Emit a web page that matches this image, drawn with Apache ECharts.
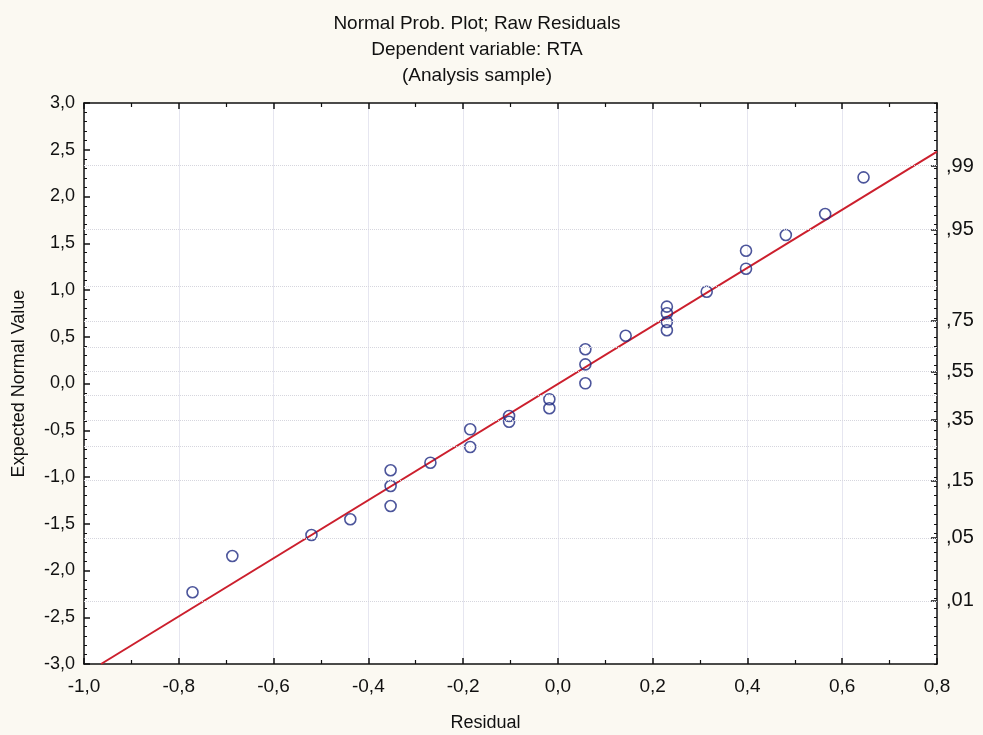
<!DOCTYPE html>
<html>
<head>
<meta charset="utf-8">
<script src="https://cdn.jsdelivr.net/npm/echarts@6/dist/echarts.min.js"></script>
<style>
html,body{margin:0;padding:0;background:#fbf9f2;}
#chart{width:983px;height:735px;}
</style>
</head>
<body>
<div id="chart"></div>
<script>
// Residuals (x) and expected normal values (y)
const residuals = [0.645, 0.564, 0.481, 0.397, 0.397, 0.314, 0.230, 0.230, 0.230, 0.230, 0.143, 0.058, 0.058, 0.058,
  -0.018, -0.018, -0.103, -0.103, -0.185, -0.185, -0.269, -0.353, -0.353, -0.353, -0.438, -0.520, -0.687, -0.771];
const expectedNormal = [2.205, 1.813, 1.588, 1.420, 1.228, 0.982, 0.822, 0.751, 0.658, 0.569, 0.511, 0.366, 0.205, 0.002,
  -0.169, -0.265, -0.348, -0.409, -0.490, -0.679, -0.847, -0.928, -1.096, -1.310, -1.452, -1.620, -1.845, -2.233];
// Fitted reference line end points
const lineX = [-0.964, 0.8];
const lineY = [-3.0, 2.48];
// Right axis probability labels and their normal quantiles
const probLabels = [',99', ',95', ',75', ',55', ',35', ',15', ',05', ',01'];
const probZ = [2.326, 1.645, 0.674, 0.126, -0.385, -1.036, -1.645, -2.326];
// Faint dotted guide lines at probability levels
const guideZ = [2.326, 1.645, 1.036, 0.674, 0.385, 0.126, -0.126, -0.385, -0.674, -1.036, -1.645, -2.326];
// Minor ticks on the right axis (every 0.1 in z)
const rightMinorTicks = [];
for (let i = -30; i <= 30; i++) rightMinorTicks.push(i / 10);

const fmt = v => v.toFixed(1).replace('.', ',');
const FONT = 'Liberation Sans, Arial, sans-serif';

const chart = echarts.init(document.getElementById('chart'), null, {renderer: 'canvas'});
const axisLine = {show: true, onZero: false, lineStyle: {color: '#111', width: 1.5}};

chart.setOption({
  backgroundColor: '#fbf9f2',
  animation: false,
  title: {
    text: 'Normal Prob. Plot; Raw Residuals\nDependent variable: RTA\n(Analysis sample)',
    left: 472, top: 6, textAlign: 'center',
    textStyle: {fontFamily: FONT, fontSize: 19, fontWeight: 'normal', color: '#111', lineHeight: 26}
  },
  grid: {left: 84, right: 46, top: 103, bottom: 71, show: true, backgroundColor: '#ffffff', borderWidth: 0,
    containLabel: false, outerBoundsMode: 'none'},
  xAxis: [
    {
      type: 'value', min: -1, max: 0.8, interval: 0.2, position: 'bottom',
      name: 'Residual', nameLocation: 'middle', nameGap: 50,
      nameTextStyle: {fontFamily: FONT, fontSize: 18, color: '#111', padding: [0, 50, 0, 0]},
      axisLine: axisLine,
      axisTick: {show: true, inside: true, length: 6, lineStyle: {color: '#111', width: 1.5}},
      minorTick: {show: true, splitNumber: 2, length: 4, lineStyle: {color: '#111', width: 1.2}},
      axisLabel: {formatter: fmt, fontFamily: FONT, fontSize: 19, color: '#111', margin: 13},
      splitLine: {show: true, lineStyle: {color: '#e6e6f0', width: 1}}
    },
    {
      type: 'value', min: -1, max: 0.8, interval: 0.2, position: 'top',
      axisLine: axisLine,
      axisTick: {show: true, inside: true, length: 6, lineStyle: {color: '#111', width: 1.5}},
      minorTick: {show: true, splitNumber: 2, length: 4, lineStyle: {color: '#111', width: 1.2}},
      axisLabel: {show: false}, splitLine: {show: false}
    }
  ],
  yAxis: [
    {
      type: 'value', min: -3, max: 3, interval: 0.5, position: 'left',
      name: 'Expected Normal Value', nameLocation: 'middle', nameGap: 56, nameRotate: 90,
      nameTextStyle: {fontFamily: FONT, fontSize: 18, color: '#111'},
      axisLine: axisLine,
      axisTick: {show: true, inside: true, length: 6, lineStyle: {color: '#111', width: 1.5}},
      minorTick: {show: true, splitNumber: 5, length: 3, lineStyle: {color: '#111', width: 1}},
      axisLabel: {formatter: fmt, fontFamily: FONT, fontSize: 18, color: '#111', margin: 9},
      splitLine: {show: false}
    },
    {
      type: 'value', min: -3, max: 3, position: 'right',
      axisLine: axisLine,
      axisTick: {show: true, inside: true, length: 6, customValues: probZ, lineStyle: {color: '#111', width: 1.5}},
      axisLabel: {
        show: true, customValues: probZ, fontFamily: FONT, fontSize: 20, color: '#111', margin: 9,
        formatter: v => { const i = probZ.findIndex(z => Math.abs(z - v) < 1e-6); return i >= 0 ? probLabels[i] : ''; }
      },
      splitLine: {show: false}
    },
    {
      type: 'value', min: -3, max: 3, position: 'right',
      axisLine: {show: false, onZero: false},
      axisTick: {show: true, inside: true, length: 3, customValues: rightMinorTicks, lineStyle: {color: '#111', width: 1}},
      axisLabel: {show: false},
      splitLine: {show: false}
    }
  ],
  series: [
    {
      type: 'line', xAxisIndex: 0, yAxisIndex: 0,
      data: lineX.map((x, i) => [x, lineY[i]]),
      symbol: 'none', lineStyle: {color: '#cc1f2d', width: 2}, z: 3,
      markLine: {
        silent: true, symbol: 'none', label: {show: false},
        lineStyle: {color: '#d6d6de', type: 'dotted', width: 1},
        data: guideZ.map(z => ({yAxis: z}))
      }
    },
    {
      type: 'scatter', xAxisIndex: 0, yAxisIndex: 0,
      data: residuals.map((x, i) => [x, expectedNormal[i]]),
      symbol: 'circle', symbolSize: 11,
      itemStyle: {color: 'rgba(255,255,255,0)', borderColor: '#1f2a82', borderWidth: 1.6}, z: 4
    }
  ]
});
</script>
</body>
</html>
